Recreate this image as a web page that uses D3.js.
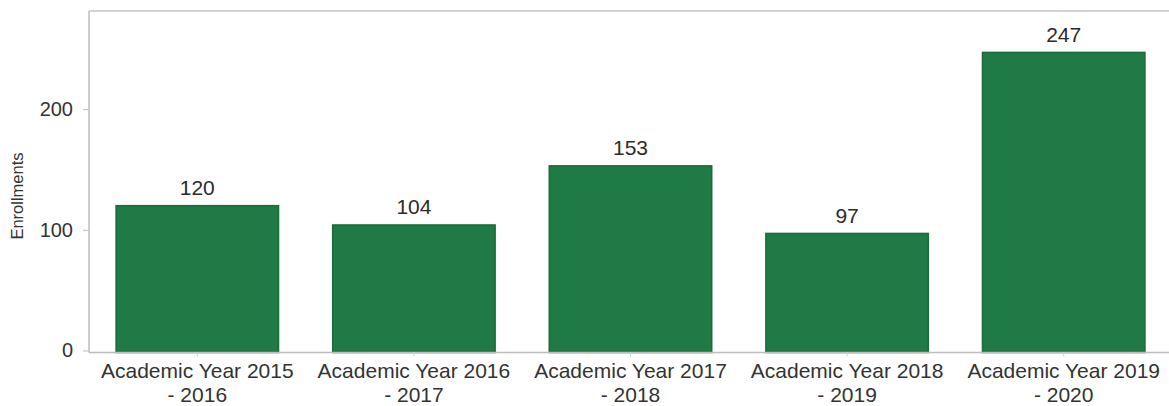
<!DOCTYPE html>
<html><head><meta charset="utf-8">
<script src="https://cdn.jsdelivr.net/npm/d3@7"></script>
<style>
html,body{margin:0;padding:0;background:#fff;}
svg text{font-family:"Liberation Sans",Arial,sans-serif;}
</style></head>
<body><svg id="c" width="1169" height="406"></svg>
<script>
const categories = ["Academic Year 2015 - 2016","Academic Year 2016 - 2017","Academic Year 2017 - 2018","Academic Year 2018 - 2019","Academic Year 2019 - 2020"];
const enrollments = [120, 104, 153, 97, 247];
const yTicks = [0, 100, 200];
const yTitle = "Enrollments";

const svg = d3.select("#c");
const mLeft = 89, mTop = 11, mBottom = 350.5, mRight = 1172, axisY = 352.5;

const x = d3.scaleBand().domain(categories).range([mLeft, mRight]).paddingInner(0.25).paddingOuter(0.125);
const y = d3.scaleLinear().domain([0, 281.3]).range([mBottom, mTop]);

// panel border top
svg.append("line").attr("x1", mLeft).attr("x2", 1169).attr("y1", mTop).attr("y2", mTop)
  .attr("stroke", "#c4c4c4").attr("stroke-width", 1.5);

// bars
svg.selectAll("rect.bar").data(categories).join("rect")
  .attr("class","bar")
  .attr("x", d => x(d))
  .attr("width", x.bandwidth())
  .attr("y", (d,i) => y(enrollments[i]))
  .attr("height", (d,i) => axisY - y(enrollments[i]))
  .attr("fill", "#1f7a46")
  .attr("stroke", "#186b3c").attr("stroke-width", 1.5);

// value labels
svg.selectAll("text.val").data(categories).join("text")
  .attr("class","val")
  .attr("x", d => x(d) + x.bandwidth()/2)
  .attr("y", (d,i) => y(enrollments[i]) - 10.5)
  .attr("text-anchor","middle")
  .attr("font-size", 21)
  .attr("fill", "#2b2b2b")
  .text((d,i) => enrollments[i]);

// y axis
const ya = svg.append("g").attr("transform", `translate(${mLeft},0)`)
  .call(d3.axisLeft(y).tickValues(yTicks).tickSize(6).tickPadding(10));
ya.select(".domain").attr("stroke","#bdbdbd").attr("stroke-width",1.5).attr("d", `M0,${axisY}V${mTop}`);
ya.selectAll(".tick line").attr("stroke","#bdbdbd");
ya.selectAll(".tick text").attr("font-size", 20).attr("fill","#333").attr("font-family","Liberation Sans, Arial, sans-serif");

// x axis
const xa = svg.append("g").attr("transform", `translate(0,${axisY})`)
  .call(d3.axisBottom(x).tickSize(4).tickSizeOuter(0).tickPadding(4));
xa.select(".domain").attr("stroke","#bdbdbd").attr("stroke-width",1.5).attr("d", `M${mLeft},0H1169`);
xa.selectAll(".tick line").attr("stroke","#d0d0d0");
xa.selectAll(".tick text").each(function(d){
  const t = d3.select(this);
  const parts = d.split(" - ");
  t.text(null).attr("y", 0).attr("font-size", 21).attr("fill","#333").attr("font-family","Liberation Sans, Arial, sans-serif");
  t.append("tspan").attr("x",0).attr("y", 25).attr("dy", 0).text(parts[0]);
  t.append("tspan").attr("x",0).attr("y", 49).attr("dy", 0).text("- " + parts[1]);
});

// y title
svg.append("text")
  .attr("transform", `translate(23,196) rotate(-90)`)
  .attr("text-anchor","middle")
  .attr("font-size", 16.5)
  .attr("fill","#333")
  .text(yTitle);
</script>
</body></html>
